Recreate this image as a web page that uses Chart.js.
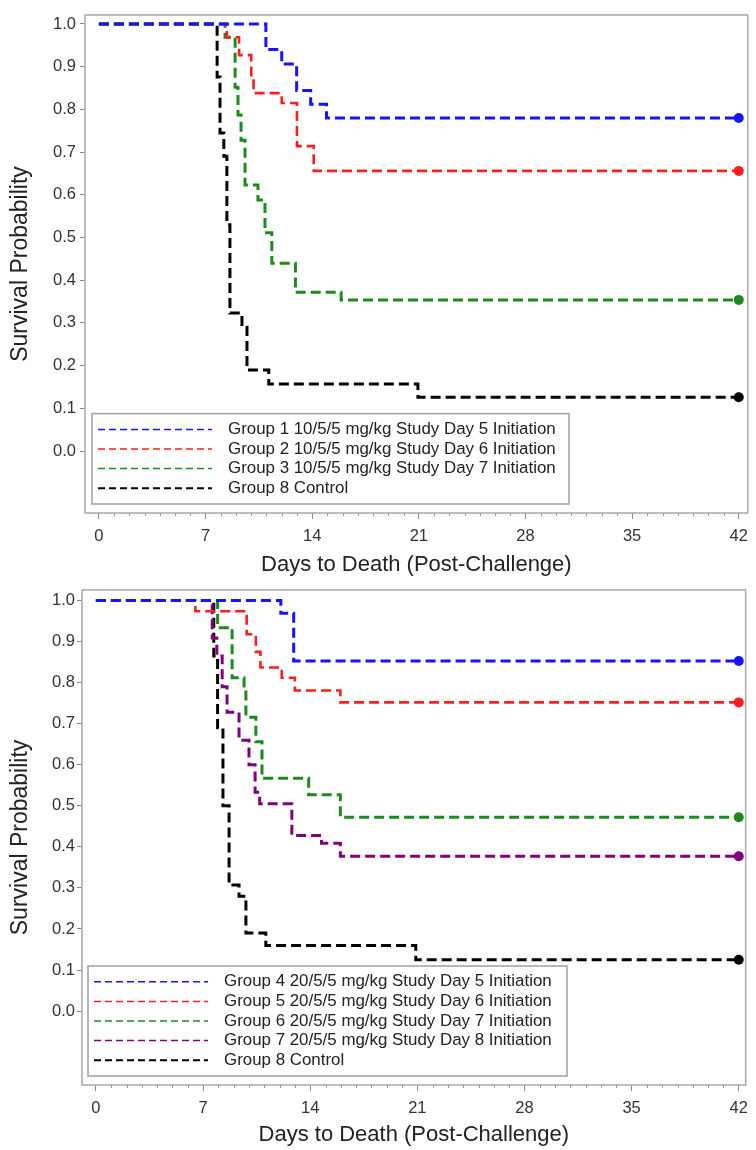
<!DOCTYPE html>
<html>
<head>
<meta charset="utf-8">
<title>Survival by treatment group</title>
<script src="https://cdn.jsdelivr.net/npm/chart.js@4.4.1/dist/chart.umd.min.js"></script>
<style>
  body { margin: 0; background: #fff; }
  canvas { position: absolute; left: 0; }
  #topChart { top: 0; }
  #bottomChart { top: 578px; }
</style>
</head>
<body>
<canvas id="topChart" width="756" height="578"></canvas>
<canvas id="bottomChart" width="756" height="572"></canvas>
<script>
// axis ticks
const dayTicks = [0, 7, 14, 21, 28, 35, 42];
const probTicks = [0.0, 0.1, 0.2, 0.3, 0.4, 0.5, 0.6, 0.7, 0.8, 0.9, 1.0];

// upper panel: 10/5/5 mg/kg groups
const g1Days = [0, 10.96, 12.0, 12.98, 13.9, 14.94, 42];
const g1Surv = [1, 0.94, 0.906, 0.844, 0.812, 0.78, 0.78];
const g2Days = [0, 8.4, 9.2, 10.0, 10.15, 12.0, 13.0, 14.1, 42];
const g2Surv = [1, 0.969, 0.927, 0.876, 0.838, 0.815, 0.714, 0.656, 0.656];
const g3Days = [0, 8.28, 8.94, 9.13, 9.33, 9.59, 10.44, 10.9, 11.35, 12.9, 15.9, 42];
const g3Surv = [1, 0.969, 0.852, 0.787, 0.728, 0.623, 0.588, 0.511, 0.44, 0.372, 0.354, 0.354];
const ctlTopDays = [0, 7.76, 7.95, 8.2, 8.4, 8.6, 9.39, 9.72, 11.15, 20.94, 42];
const ctlTopSurv = [1, 0.876, 0.745, 0.69, 0.53, 0.323, 0.29, 0.19, 0.157, 0.126, 0.126];

// lower panel: 20/5/5 mg/kg groups
const g4Days = [0, 12.08, 12.92, 42];
const g4Surv = [1, 0.969, 0.853, 0.853];
const g5Days = [0, 6.5, 9.85, 10.45, 10.75, 12.14, 13.0, 15.97, 42];
const g5Surv = [1, 0.974, 0.918, 0.875, 0.837, 0.812, 0.781, 0.752, 0.752];
const g6Days = [0, 7.95, 8.9, 9.68, 9.8, 10.45, 10.85, 13.9, 15.97, 42];
const g6Surv = [1, 0.934, 0.812, 0.786, 0.716, 0.656, 0.567, 0.527, 0.472, 0.472];
const g7Days = [0, 7.6, 7.9, 8.25, 8.57, 9.35, 10.0, 10.4, 10.7, 12.8, 14.74, 15.97, 42];
const g7Surv = [1, 0.909, 0.865, 0.79, 0.728, 0.66, 0.6, 0.533, 0.505, 0.428, 0.409, 0.377, 0.377];
const ctlBotDays = [0, 7.7, 7.95, 8.3, 8.7, 9.35, 9.8, 11.1, 20.9, 42];
const ctlBotSurv = [1, 0.865, 0.69, 0.5, 0.307, 0.28, 0.19, 0.16, 0.125, 0.125];

const topLabels = [
  "Group 1 10/5/5 mg/kg Study Day 5 Initiation",
  "Group 2 10/5/5 mg/kg Study Day 6 Initiation",
  "Group 3 10/5/5 mg/kg Study Day 7 Initiation",
  "Group 8 Control"
];
const bottomLabels = [
  "Group 4 20/5/5 mg/kg Study Day 5 Initiation",
  "Group 5 20/5/5 mg/kg Study Day 6 Initiation",
  "Group 6 20/5/5 mg/kg Study Day 7 Initiation",
  "Group 7 20/5/5 mg/kg Study Day 8 Initiation",
  "Group 8 Control"
];

const BLUE = '#1414ff', RED = '#ff1c1c', GREEN = '#1c8a1c', PURPLE = '#800080', BLACK = '#000000';

Chart.defaults.font.family = '"Liberation Sans", Arial, sans-serif';

// one Kaplan-Meier curve, dot on the last (censored) point
function survivalSet(label, days, surv, color, width) {
  return {
    label: label,
    data: days.map((d, i) => ({ x: d, y: surv[i] })),
    borderColor: color,
    backgroundColor: color,
    borderWidth: width,
    borderDash: [10, 5],
    stepped: 'before',
    fill: false,
    pointRadius: ctx => ctx.dataIndex === days.length - 1 ? 5 : 0,
    pointHoverRadius: 0,
    pointBorderWidth: 0,
    pointBackgroundColor: color
  };
}

// grey box round the plot area
const frameBox = {
  id: 'frameBox',
  beforeDatasetsDraw(chart) {
    const { ctx, chartArea: a } = chart;
    ctx.save();
    ctx.strokeStyle = '#a8a8a8';
    ctx.lineWidth = 1.5;
    ctx.strokeRect(a.left, a.top, a.right - a.left, a.bottom - a.top);
    ctx.restore();
  }
};

// small day ticks between the weekly ones
const minorTicks = {
  id: 'minorTicks',
  afterDraw(chart) {
    const { ctx, chartArea } = chart;
    const xs = chart.scales.x;
    ctx.save();
    ctx.strokeStyle = '#999';
    ctx.lineWidth = 1;
    ctx.beginPath();
    for (let d = 1; d < 42; d++) {
      if (d % 7 === 0) continue;
      const px = Math.round(xs.getPixelForValue(d)) + 0.5;
      ctx.moveTo(px, chartArea.bottom);
      ctx.lineTo(px, chartArea.bottom + 3);
    }
    ctx.stroke();
    ctx.restore();
  }
};

// boxed legend sitting inside the plot, bottom left
const boxLegend = {
  id: 'boxLegend',
  afterDraw(chart, args, opts) {
    const { ctx, chartArea } = chart;
    const sets = chart.data.datasets;
    const rowH = 19.6;
    const h = sets.length * rowH + 12;
    const left = chartArea.left + opts.offsetX;
    const top = chartArea.bottom - opts.offsetY - h;
    ctx.save();
    ctx.fillStyle = '#fff';
    ctx.fillRect(left, top, opts.width, h);
    ctx.strokeStyle = '#a0a0a0';
    ctx.lineWidth = 1.5;
    ctx.strokeRect(left, top, opts.width, h);
    ctx.font = '16.9px "Liberation Sans", Arial, sans-serif';
    ctx.textBaseline = 'middle';
    sets.forEach((ds, i) => {
      const cy = top + 6 + rowH * i + rowH / 2;
      ctx.setLineDash([7, 4]);
      ctx.strokeStyle = ds.borderColor;
      ctx.lineWidth = ds.borderColor === BLACK ? 2 : 1.5;
      ctx.beginPath();
      ctx.moveTo(left + 6, cy);
      ctx.lineTo(left + 120, cy);
      ctx.stroke();
      ctx.setLineDash([]);
      ctx.fillStyle = '#222';
      ctx.fillText(ds.label, left + 136, cy);
    });
    ctx.restore();
  }
};

function survivalOptions(geo) {
  return {
    responsive: false,
    animation: false,
    events: [],
    layout: { padding: { top: geo.padTop, right: geo.padRight, left: 0, bottom: 0 } },
    plugins: {
      legend: { display: false },
      tooltip: { enabled: false },
      boxLegend: { offsetX: geo.legendX, offsetY: 9, width: geo.legendW }
    },
    scales: {
      x: {
        type: 'linear',
        min: geo.xMin,
        max: geo.xMax,
        afterBuildTicks: s => { s.ticks = dayTicks.map(v => ({ value: v })); },
        afterFit: s => { s.height = geo.xHeight; },
        ticks: { font: { size: 16.5 }, color: '#333', padding: 8, maxRotation: 0, autoSkip: false },
        grid: { drawOnChartArea: false, tickLength: 6, color: '#888' },
        border: { display: false },
        title: {
          display: true,
          text: 'Days to Death (Post-Challenge)',
          font: { size: 22 },
          color: '#222',
          padding: { top: 0, bottom: geo.titlePad }
        }
      },
      y: {
        min: geo.yMin,
        max: geo.yMax,
        afterBuildTicks: s => { s.ticks = probTicks.map(v => ({ value: v })); },
        afterFit: s => { s.width = geo.yWidth; },
        ticks: { callback: v => Number(v).toFixed(1), font: { size: 16.5 }, color: '#333', padding: geo.yTickPad },
        grid: { drawOnChartArea: false, tickLength: 5, color: '#888' },
        border: { display: false },
        title: {
          display: true,
          text: 'Survival Probability',
          font: { size: 23 },
          color: '#222',
          padding: { top: 7, bottom: 0 }
        }
      }
    }
  };
}

new Chart(document.getElementById('topChart'), {
  type: 'line',
  data: {
    datasets: [
      survivalSet(topLabels[0], g1Days, g1Surv, BLUE, 3),
      survivalSet(topLabels[1], g2Days, g2Surv, RED, 2.6),
      survivalSet(topLabels[2], g3Days, g3Surv, GREEN, 3),
      survivalSet(topLabels[3], ctlTopDays, ctlTopSurv, BLACK, 3)
    ]
  },
  options: survivalOptions({
    padTop: 15, padRight: 4, xHeight: 65, yWidth: 85, yTickPad: 4, titlePad: 0,
    xMin: -0.913, xMax: 42.59, yMin: -0.145, yMax: 1.021,
    legendX: 7, legendW: 477
  }),
  plugins: [frameBox, minorTicks, boxLegend]
});

new Chart(document.getElementById('bottomChart'), {
  type: 'line',
  data: {
    datasets: [
      survivalSet(bottomLabels[0], g4Days, g4Surv, BLUE, 3),
      survivalSet(bottomLabels[1], g5Days, g5Surv, RED, 2.6),
      survivalSet(bottomLabels[2], g6Days, g6Surv, GREEN, 3),
      survivalSet(bottomLabels[3], g7Days, g7Surv, PURPLE, 3),
      survivalSet(bottomLabels[4], ctlBotDays, ctlBotSurv, BLACK, 3)
    ]
  },
  options: survivalOptions({
    padTop: 5, padRight: 6, xHeight: 65, yWidth: 82, yTickPad: 2, titlePad: 2,
    xMin: -0.909, xMax: 42.45, yMin: -0.180, yMax: 1.026,
    legendX: 6, legendW: 479
  }),
  plugins: [frameBox, minorTicks, boxLegend]
});
</script>
</body>
</html>
